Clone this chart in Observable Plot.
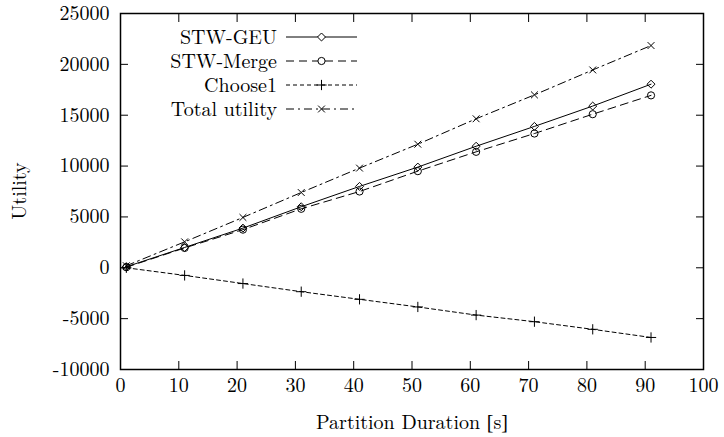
<!DOCTYPE html>
<html>
<head>
<meta charset="utf-8">
<script src="https://cdn.jsdelivr.net/npm/d3@7"></script>
<script src="https://cdn.jsdelivr.net/npm/@observablehq/plot@0.6"></script>
<style>
  html, body { margin: 0; padding: 0; background: #fff; }
  #chart svg { display: block; }
  #chart svg, #chart svg text {
    font-family: "Latin Modern Roman", "Liberation Serif", serif !important;
  }
</style>
</head>
<body>
<div id="chart"></div>
<script>
// Partition duration in seconds (x) and utility of each strategy (y)
const durations = [1, 11, 21, 31, 41, 51, 61, 71, 81, 91];
const stwGeu = [100, 2000, 3900, 6000, 8000, 9900, 11950, 13900, 15900, 18050];
const stwMerge = [50, 1950, 3750, 5800, 7500, 9500, 11400, 13200, 15100, 16950];
const choose1 = [0, -750, -1550, -2350, -3100, -3850, -4650, -5300, -6050, -6850];
const totalUtility = [200, 2550, 4950, 7400, 9800, 12150, 14650, 17000, 19450, 21850];

const seriesNames = ["STW-GEU", "STW-Merge", "Choose1", "Total utility"];
const xTicks = [0, 10, 20, 30, 40, 50, 60, 70, 80, 90, 100];
const yTicks = [-10000, -5000, 0, 5000, 10000, 15000, 20000, 25000];

// line style and marker for each series
const styles = {
  "STW-GEU": { dash: null, symbol: "diamond2", r: 3.6 },
  "STW-Merge": { dash: "8,5", symbol: "circle", r: 3.6 },
  "Choose1": { dash: "4,3", symbol: "plus", r: 3.4 },
  "Total utility": { dash: "8,4,2,4", symbol: "times", r: 3.2 }
};

const valuesBySeries = [stwGeu, stwMerge, choose1, totalUtility];
const rows = seriesNames.flatMap((name, i) =>
  durations.map((d, j) => ({ series: name, duration: d, utility: valuesBySeries[i][j] }))
);

const font = '"Latin Modern Roman", "Liberation Serif", serif';
const bracketFont = '"Liberation Serif", serif';
const fontSize = 20;
const W = 724, H = 437;
const mLeft = 120, mRight = 21, mTop = 13, mBottom = 68;

const lineMarks = seriesNames.flatMap(name => {
  const data = rows.filter(r => r.series === name);
  const s = styles[name];
  return [
    Plot.line(data, { x: "duration", y: "utility", stroke: "black", strokeWidth: 1, strokeDasharray: s.dash }),
    Plot.dot(data, { x: "duration", y: "utility", symbol: () => s.symbol, r: s.r, stroke: "black", strokeWidth: 1, fill: "none" })
  ];
});

const chart = Plot.plot({
  width: W,
  height: H,
  marginLeft: mLeft,
  marginRight: mRight,
  marginTop: mTop,
  marginBottom: mBottom,
  style: { fontFamily: font, fontSize: fontSize + "px", color: "black", background: "white" },
  x: { domain: [0, 100] },
  y: { domain: [-10000, 25000] },
  symbol: { type: "identity" },
  marks: [
    // tick labels
    Plot.axisX({ anchor: "bottom", ticks: xTicks, tickSize: 0, tickPadding: 8, tickFormat: d => String(d), label: null, fontSize }),
    Plot.axisY({ anchor: "left", ticks: yTicks, tickSize: 0, tickPadding: 11, tickFormat: d => String(d), label: null, fontSize }),
    // inward ticks on all four sides
    Plot.axisX({ anchor: "bottom", ticks: xTicks, tickSize: -8, tickFormat: () => "", label: null, strokeWidth: 1 }),
    Plot.axisX({ anchor: "top", ticks: xTicks, tickSize: -8, tickFormat: () => "", label: null, strokeWidth: 1 }),
    Plot.axisY({ anchor: "left", ticks: yTicks, tickSize: -8, tickFormat: () => "", label: null, strokeWidth: 1 }),
    Plot.axisY({ anchor: "right", ticks: yTicks, tickSize: -8, tickFormat: () => "", label: null, strokeWidth: 1 }),
    ...lineMarks,
    Plot.frame({ stroke: "black", strokeWidth: 1.5 })
  ]
});

const svg = d3.select(chart);

// axis titles
const xTitle = svg.append("text")
  .attr("x", 412)
  .attr("y", 429)
  .attr("text-anchor", "middle")
  .attr("font-family", font)
  .attr("font-size", fontSize);
xTitle.append("tspan").text("Partition Duration ");
xTitle.append("tspan").attr("font-family", bracketFont).text("[");
xTitle.append("tspan").text("s");
xTitle.append("tspan").attr("font-family", bracketFont).text("]");

svg.append("text")
  .attr("transform", `translate(26, ${mTop + (H - mTop - mBottom) / 2}) rotate(-90)`)
  .attr("text-anchor", "middle")
  .attr("font-family", font)
  .attr("font-size", fontSize)
  .text("Utility");

// key in the upper-left corner of the plot area
const key = svg.append("g").attr("class", "key");
const symbolTypes = { diamond2: d3.symbolDiamond2, circle: d3.symbolCircle, plus: d3.symbolPlus, times: d3.symbolTimes };
seriesNames.forEach((name, i) => {
  const s = styles[name];
  const y = 37 + i * 24;
  key.append("text")
    .attr("x", 277).attr("y", y)
    .attr("dy", "0.35em")
    .attr("text-anchor", "end")
    .attr("font-family", font)
    .attr("font-size", fontSize)
    .text(name);
  key.append("line")
    .attr("x1", 286).attr("x2", 357).attr("y1", y).attr("y2", y)
    .attr("stroke", "black").attr("stroke-width", 1)
    .attr("stroke-dasharray", s.dash);
  key.append("path")
    .attr("transform", `translate(321.5, ${y})`)
    .attr("d", d3.symbol(symbolTypes[s.symbol], Math.PI * s.r * s.r)())
    .attr("fill", "white").attr("stroke", "black").attr("stroke-width", 1);
});

document.getElementById("chart").append(chart);
</script>
</body>
</html>
